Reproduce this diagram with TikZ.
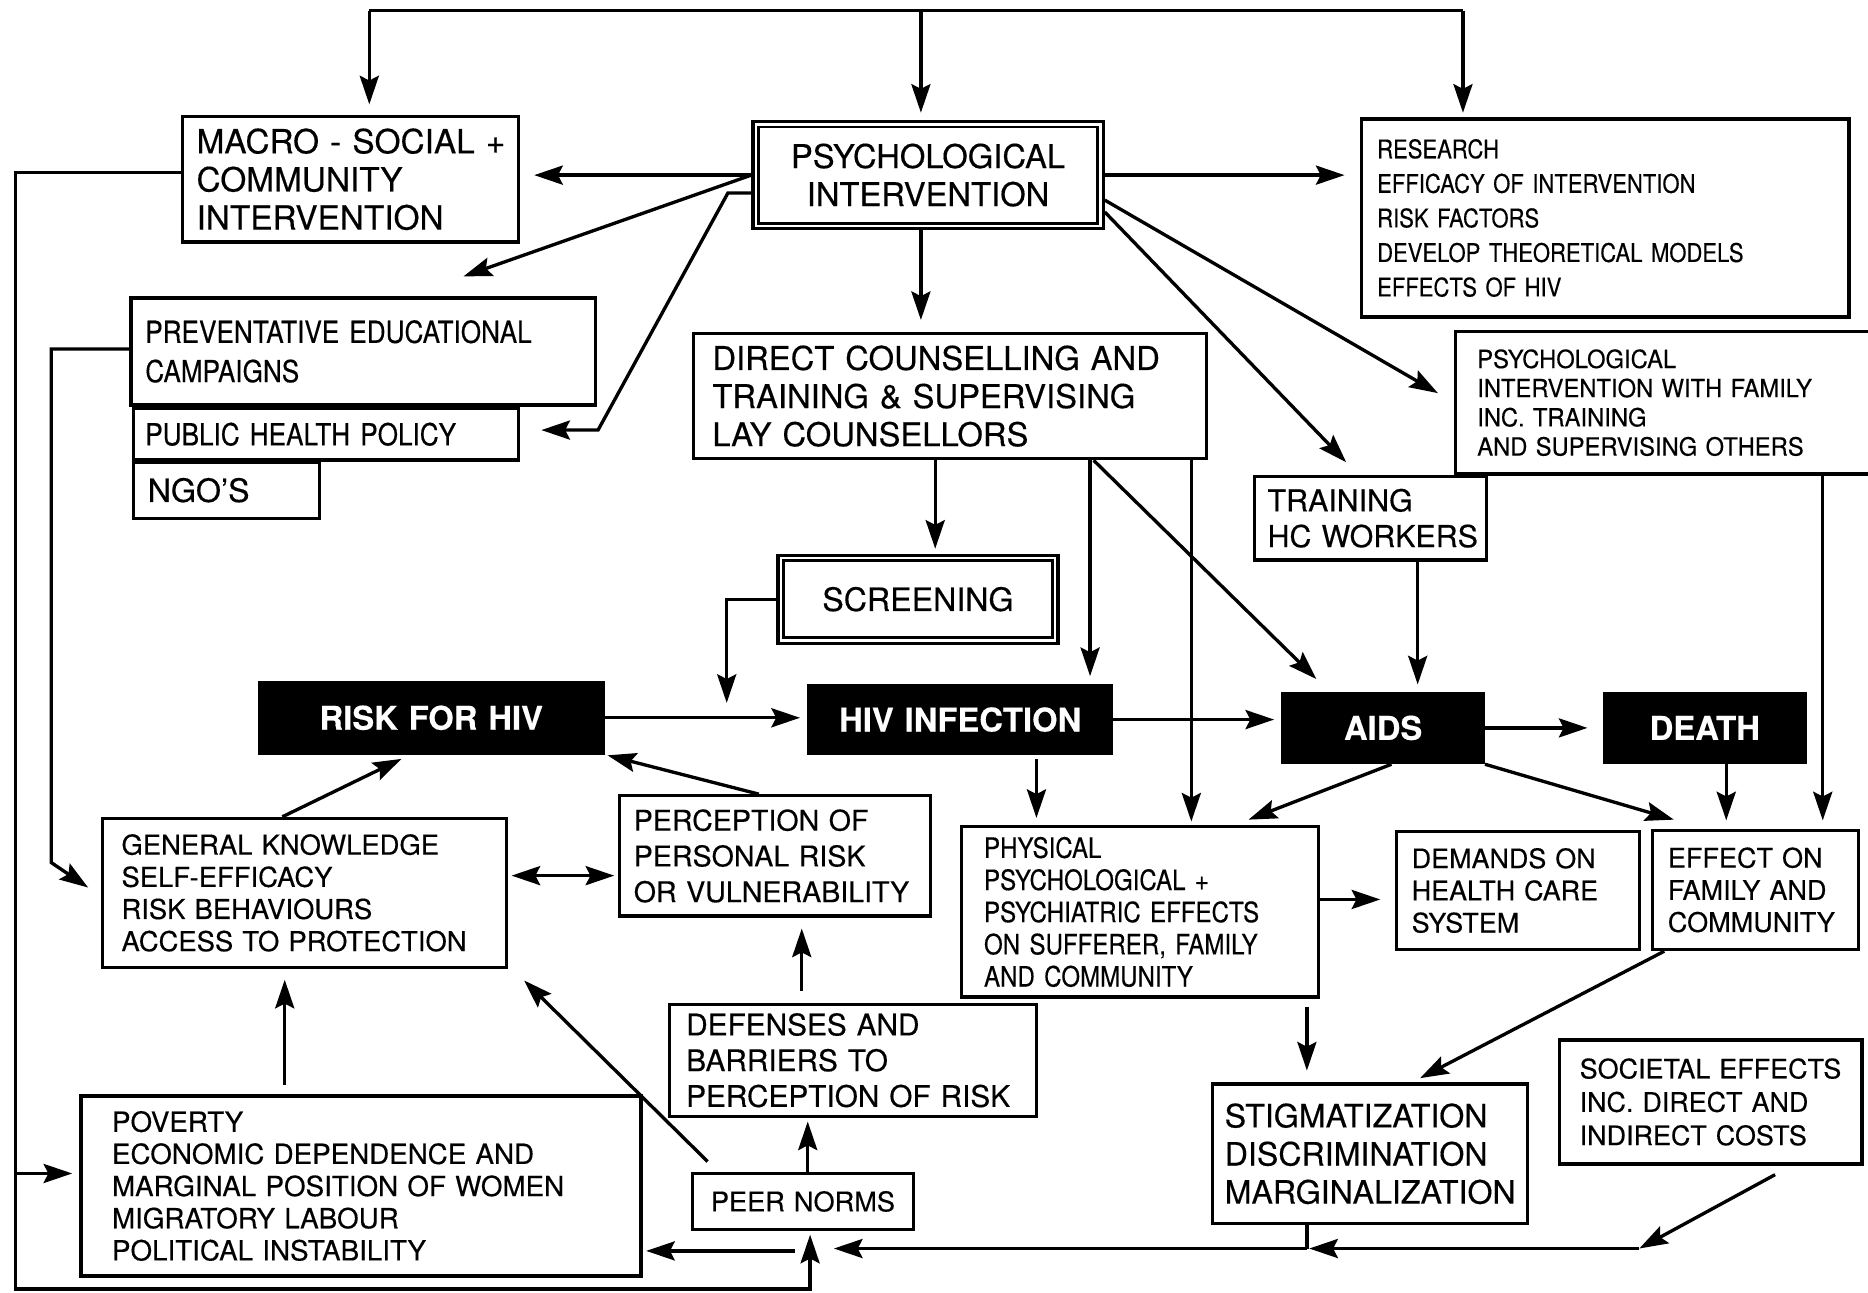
\documentclass[tikz,border=0pt]{standalone}
\usepackage{fontspec}
\setmainfont{TeX Gyre Heros}[FakeBold=0.35]
\newfontfamily\cond[FakeStretch=0.86,FakeBold=0.35]{TeX Gyre Heros}
\newfontfamily\condb[FakeStretch=0.95,FakeBold=0.35]{TeX Gyre Heros}
\usetikzlibrary{arrows.meta}
\newcommand\fs[2]{\fontsize{#1}{#2}\selectfont}
\tikzset{
  box/.style={draw, line width=2.8pt, rectangle, inner ysep=0pt, align=left,
    execute at begin node={\hyphenpenalty=10000\exhyphenpenalty=10000\hbadness=10000\hfuzz=200pt}},
  blk/.style={fill=black, draw=black, line width=1pt, text=white, font=\bfseries\fs{27.5}{32}, align=center},
  arr/.style={line width=2.8pt, -{Stealth[length=24pt,width=16pt,inset=4pt]}},
  darr/.style={line width=2.8pt, {Stealth[length=24pt,width=16pt,inset=4pt]}-{Stealth[length=24pt,width=16pt,inset=4pt]}},
  ln/.style={line width=2.8pt},
}
% [opts]{x1}{y1}{x2}{y2}{pad}{name}{text}
\newcommand\bx[8][]{%
  \pgfmathsetmacro\bxw{#4-#2}\pgfmathsetmacro\bxh{#5-#3}%
  \pgfmathsetmacro\bxt{#4-#2-2*#6}%
  \pgfmathsetmacro\bxcx{(#2+#4)/2}\pgfmathsetmacro\bxcy{(#3+#5)/2}%
  \node[box,minimum width=\bxw pt,minimum height=\bxh pt,text width=\bxt pt,inner xsep=#6pt,#1] (#7) at (\bxcx,\bxcy) {#8};}
\begin{document}
\begin{tikzpicture}[x=1pt,y=-1pt]
\fill[white] (0,0) rectangle (1568,1085);
\useasboundingbox (0,0) rectangle (1568,1085);

% ---------- nodes ----------
\bx[font=\fs{28}{32}]{153}{98}{435}{203}{12}{macro}{MACRO~-~SOCIAL~+\\COMMUNITY\\INTERVENTION}
\bx[align=center,font=\fs{27.5}{32},yshift=-4pt]{632}{98}{926}{188}{8}{psych}{PSYCHOLOGICAL\\INTERVENTION}
\draw[line width=2.4pt] ([shift={(6pt,-6pt)}]psych.north west) rectangle ([shift={(-6pt,6pt)}]psych.south east);
\bx[font=\cond\fs{21.5}{29}]{1143}{100}{1552}{266}{13}{research}{RESEARCH\\EFFICACY~OF~INTERVENTION\\RISK~FACTORS\\DEVELOP~THEORETICAL~MODELS\\EFFECTS~OF~HIV}
\bx[font=\cond\fs{25.5}{33}]{110}{250}{500}{340}{12}{prev}{PREVENTATIVE~EDUCATIONAL\\CAMPAIGNS}
\bx[font=\cond\fs{25.5}{30}]{112}{343}{435}{386}{10}{ph}{PUBLIC~HEALTH~POLICY}
\bx[font=\fs{27}{30}]{112}{388}{268}{435}{12}{ngo}{NGO’S}
\bx[font=\fs{27.5}{32}]{582}{280}{1013}{385}{16}{direct}{DIRECT~COUNSELLING~AND\\TRAINING~\&~SUPERVISING\\LAY~COUNSELLORS}
\bx[font=\fs{25.5}{30}]{1053}{400}{1248}{470}{11}{train}{TRAINING\\HC~WORKERS}
\bx[font=\condb\fs{21}{24.5}]{1222}{278}{1574}{398}{18}{family}{PSYCHOLOGICAL\\INTERVENTION~WITH~FAMILY\\INC.~TRAINING\\AND~SUPERVISING~OTHERS}
\bx[align=center,font=\fs{27}{32}]{653}{466}{888}{540}{8}{screen}{SCREENING}
\draw[line width=2.4pt] ([shift={(6pt,-6pt)}]screen.north west) rectangle ([shift={(-6pt,6pt)}]screen.south east);
\bx[blk]{217}{572}{507}{633}{4}{risk}{RISK~FOR~HIV}
\bx[blk]{678}{575}{934}{633}{4}{hiv}{HIV~INFECTION}
\bx[blk]{1076}{581}{1246}{641}{4}{aids}{AIDS}
\bx[blk]{1346}{581}{1516}{641}{4}{death}{DEATH}
\bx[font=\fs{23}{27}]{86}{687}{425}{812}{16}{gen}{GENERAL~KNOWLEDGE\\SELF-EFFICACY\\RISK~BEHAVIOURS\\ACCESS~TO~PROTECTION}
\bx[font=\fs{24}{30}]{520}{668}{781}{769}{12}{perc}{PERCEPTION~OF\\PERSONAL~RISK\\OR~VULNERABILITY}
\bx[font=\cond\fs{23.5}{27}]{807}{694}{1107}{837}{19}{phys}{PHYSICAL\\PSYCHOLOGICAL~+\\PSYCHIATRIC~EFFECTS\\ON~SUFFERER,~FAMILY\\AND~COMMUNITY}
\bx[font=\fs{22.6}{27}]{1172}{698}{1376}{797}{13}{dem}{DEMANDS~ON\\HEALTH~CARE\\SYSTEM}
\bx[font=\fs{22.7}{27}]{1387}{697}{1560}{797}{13}{eff}{EFFECT~ON\\FAMILY~AND\\COMMUNITY}
\bx[font=\fs{25}{30}]{562}{843}{870}{937}{14}{def}{DEFENSES~AND\\BARRIERS~TO\\PERCEPTION~OF~RISK}
\bx[font=\fs{27}{32}]{1018}{910}{1282}{1027}{10}{stig}{STIGMATIZATION\\DISCRIMINATION\\MARGINALIZATION}
\bx[font=\fs{22.6}{28}]{1309}{873}{1563}{977}{17}{soc}{SOCIETAL~EFFECTS\\INC.~DIRECT~AND\\INDIRECT~COSTS}
\bx[font=\fs{23.3}{27}]{68}{920}{538}{1071}{26}{pov}{POVERTY\\ECONOMIC~DEPENDENCE~AND\\MARGINAL~POSITION~OF~WOMEN\\MIGRATORY~LABOUR\\POLITICAL~INSTABILITY}
\bx[align=center,font=\fs{22.8}{27}]{581}{985}{767}{1032}{8}{peer}{PEER~NORMS}

% ---------- coordinates ----------
\coordinate (tL) at (310,9); \coordinate (tM) at (773,9); \coordinate (tR) at (1228,9);
\coordinate (pv) at (389,232);
\coordinate (ph1) at (611,162); \coordinate (ph2) at (502,361);
\coordinate (pf0) at (926,168); \coordinate (pf) at (1207,330);
\coordinate (pt0) at (926,178); \coordinate (pt) at (1130,388);
\coordinate (d1) at (785,0); \coordinate (d2) at (915,0); \coordinate (d3) at (918,0); \coordinate (d4) at (1000,0);
\coordinate (da) at (1105,570);
\coordinate (s1) at (610,0); \coordinate (s2) at (610,590);
\coordinate (tr) at (1190,0); \coordinate (fe) at (1530,0); \coordinate (de) at (1449,0);
\coordinate (ap0) at (1168,0); \coordinate (ap) at (1048,688);
\coordinate (ae) at (1405,688);
\coordinate (hp) at (870,0);
\coordinate (pd) at (0,755);
\coordinate (ps0) at (1097,845); \coordinate (ps) at (1097,0);
\coordinate (es0) at (1397,0); \coordinate (es) at (1192,905);
\coordinate (sb0) at (1490,986); \coordinate (sb1) at (1376,1048);
\coordinate (sj) at (1097,1048); \coordinate (pj) at (680,1048);
\coordinate (pv0) at (667,1050);
\coordinate (L1) at (13,145); \coordinate (L2) at (13,1082); \coordinate (L3) at (680,1082); \coordinate (L4) at (13,985);
\coordinate (P1) at (43,293); \coordinate (P2) at (43,724); \coordinate (P3) at (74,745);
\coordinate (g0) at (237,0); \coordinate (g1) at (337,637);
\coordinate (pr0) at (637,0); \coordinate (pr1) at (510,634);
\coordinate (gp) at (0,735);
\coordinate (pg) at (239,0);
\coordinate (pe0) at (594,975); \coordinate (pe1) at (440,823);
\coordinate (px) at (678,0); \coordinate (dx) at (673,0);

% ---------- connectors ----------
\draw[ln] (tL) -- (tR);
\draw[arr,shorten >=9pt] (tL) -- (macro.north -| tL);
\draw[arr,shorten >=6pt] (tM) -- (psych.north -| tM);
\draw[arr,shorten >=4pt] (tR) -- (research.north -| tR);
\draw[arr,shorten >=12pt] (psych.west) -- (macro.east |- psych.west);
\draw[arr] (psych.west) -- (pv);
\draw[arr,shorten >=18pt] (psych.west |- ph1) -- (ph1) -- (ph2) -- (ph.east |- ph2);
\draw[arr,shorten >=13pt] (psych.east) -- (research.west |- psych.east);
\draw[arr] (psych.east |- pf0) -- (pf);
\draw[arr] (psych.east |- pt0) -- (pt);
\draw[arr,shorten >=10pt] (psych.south -| tM) -- (direct.north -| tM);
\draw[arr,shorten >=4pt] (direct.south -| d1) -- (screen.north -| d1);
\draw[arr,shorten >=7pt] (direct.south -| d2) -- (hiv.north -| d2);
\draw[arr] (direct.south -| d3) -- (da);
\draw[arr,shorten >=3pt] (direct.south -| d4) -- (phys.north -| d4);
\draw[arr] (screen.west) -- (screen.west -| s1) -- (s2);
\draw[arr,shorten >=6pt] (risk.east) -- (hiv.west |- risk.east);
\draw[arr,shorten >=6pt] (hiv.east) -- (aids.west |- hiv.east);
\draw[arr,shorten >=13pt] (aids.east) -- (death.west |- aids.east);
\draw[arr,shorten >=6pt] (train.south -| tr) -- (aids.north -| tr);
\draw[arr,shorten >=7pt] (family.south -| fe) -- (eff.north -| fe);
\draw[arr,shorten >=7pt] (death.south -| de) -- (eff.north -| de);
\draw[arr] (aids.south -| ap0) -- (ap);
\draw[arr] (aids.south east) -- (ae);
\draw[arr,shorten <=4pt,shorten >=6pt] (hiv.south -| hp) -- (phys.north -| hp);
\draw[arr,shorten >=12pt] (phys.east |- pd) -- (dem.west |- pd);
\draw[arr,shorten >=10pt] (ps0) -- (stig.north -| ps);
\draw[arr] (eff.south -| es0) -- (es);
\draw[arr] (sb0) -- (sb1);
\draw[arr] (sb1) -- ([xshift=2pt]sj);
\draw[ln] (stig.south -| sj) -- (sj);
\draw[arr,shorten >=20pt] (sj) -- (pj);
\draw[arr,shorten >=3pt] (pv0) -- (pov.east |- pv0);
\draw[arr,shorten >=3pt] (macro.west |- L1) -- (L1) -- (L2) -- (L3) -- (peer.south -| L3);
\draw[arr,shorten >=6pt] (L4) -- (pov.west |- L4);
\draw[arr] (prev.west |- P1) -- (P1) -- (P2) -- (P3);
\draw[arr] (gen.north -| g0) -- (g1);
\draw[arr] (perc.north -| pr0) -- (pr1);
\draw[darr,shorten <=3pt,shorten >=3pt] (gen.east |- gp) -- (perc.west |- gp);
\draw[arr,shorten <=8pt,shorten >=9pt] (pov.north -| pg) -- (gen.south -| pg);
\draw[arr] (pe0) -- (pe1);
\draw[arr,shorten >=3pt] (peer.north -| px) -- (def.south -| px);
\draw[arr,shorten <=10pt,shorten >=9pt] (def.north -| dx) -- (perc.south -| dx);
\end{tikzpicture}
\end{document}
